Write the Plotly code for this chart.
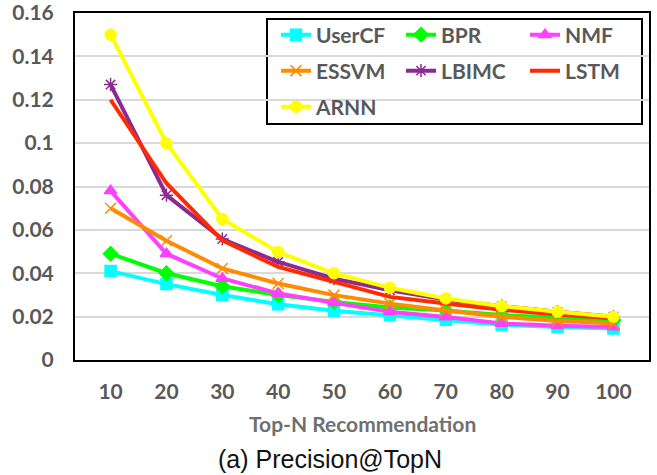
import plotly.graph_objects as go

categories = ["10", "20", "30", "40", "50", "60", "70", "80", "90", "100"]

usercf = [0.041, 0.035, 0.030, 0.0257, 0.0227, 0.0207, 0.0186, 0.0163, 0.0152, 0.0145]
bpr = [0.049, 0.040, 0.034, 0.030, 0.0268, 0.0242, 0.0228, 0.0207, 0.0196, 0.0184]
nmf = [0.078, 0.049, 0.0376, 0.0307, 0.0264, 0.0222, 0.0198, 0.0168, 0.0158, 0.0152]
essvm = [0.070, 0.055, 0.0422, 0.0353, 0.0299, 0.026, 0.0228, 0.0199, 0.018, 0.017]
lbimc = [0.127, 0.076, 0.0558, 0.0452, 0.0375, 0.0322, 0.0279, 0.0248, 0.0222, 0.0200]
lstm = [0.120, 0.0815, 0.0552, 0.0429, 0.036, 0.0291, 0.0261, 0.0232, 0.021, 0.0192]
arnn = [0.150, 0.100, 0.065, 0.0498, 0.040, 0.0333, 0.0284, 0.0248, 0.0222, 0.0199]

series_names = ["UserCF", "BPR", "NMF", "ESSVM", "LBIMC", "LSTM", "ARNN"]
series_values = [usercf, bpr, nmf, essvm, lbimc, lstm, arnn]
series_colors = ["#00FFFF", "#00FF00", "#FF40FF", "#FF8C00", "#8B2A8F", "#FF2A00", "#FFFF00"]
series_symbols = ["square", "diamond", "triangle-up", "x-thin-open", "asterisk-open", None, "circle"]

y_tickvals = [0, 0.02, 0.04, 0.06, 0.08, 0.1, 0.12, 0.14, 0.16]
y_ticktext = ["0", "0.02", "0.04", "0.06", "0.08", "0.1", "0.12", "0.14", "0.16"]

x_title = "Top-N Recommendation"
caption = "(a) Precision@TopN"

tick_font = dict(family="Lato", size=21, color="#595959", weight="bold")
legend_font = dict(family="Lato", size=21, color="#595959", weight="bold")

L, R, T, B = 75, 8, 13, 115
W, H = 657, 475
pw, ph = W - L - R, H - T - B

def px_x(x):
    return (x - L) / pw

def px_y(y):
    return (H - B - y) / ph

# legend grid: 3 columns, 3 rows (pixel anchors of each entry)
legend_cols = [276, 401, 525]
legend_rows = [35, 71, 107]

fig = go.Figure()
legend_layout = {}
for i, (name, vals, col, sym) in enumerate(zip(series_names, series_values, series_colors, series_symbols)):
    lg = "legend" if i == 0 else f"legend{i + 1}"
    if sym is None:
        fig.add_trace(go.Scatter(x=categories, y=vals, name=name, mode="lines",
                                 line=dict(color=col, width=4), legend=lg, showlegend=True))
    else:
        mk = dict(symbol=sym, size=11, color=col, line=dict(color=col, width=1.5))
        fig.add_trace(go.Scatter(x=categories, y=vals, name=name, mode="lines+markers",
                                 line=dict(color=col, width=4), marker=mk, legend=lg,
                                 showlegend=True))
    legend_layout[lg] = dict(x=px_x(legend_cols[i % 3]), y=px_y(legend_rows[i // 3]),
                             xanchor="left", yanchor="middle", font=legend_font,
                             bgcolor="rgba(0,0,0,0)", borderwidth=0)

fig.update_layout(
    width=W, height=H,
    showlegend=True,
    margin=dict(l=L, r=R, t=T, b=B, autoexpand=False),
    paper_bgcolor="white", plot_bgcolor="white",
    font=tick_font,
    xaxis=dict(type="category", showgrid=False, ticks="", tickfont=tick_font,
               showline=True, linecolor="black", linewidth=2, mirror=True,
               ticklabelstandoff=12, zeroline=False, automargin=False),
    yaxis=dict(range=[0, 0.16], tickvals=y_tickvals, ticktext=y_ticktext,
               showgrid=True, gridcolor="#D9D9D9", gridwidth=1.5, ticks="",
               tickfont=tick_font, showline=True, linecolor="black", linewidth=2,
               mirror=True, zeroline=False, ticklabelstandoff=15, automargin=False,
               ticklabeloverflow="allow"),
    shapes=[dict(type="rect", xref="paper", yref="paper",
                 x0=px_x(267), x1=px_x(642), y0=px_y(124), y1=px_y(19),
                 line=dict(color="black", width=2), fillcolor="white", layer="between")],
    annotations=[
        dict(text=x_title, xref="paper", yref="paper", x=px_x(362), y=px_y(424),
             showarrow=False, xanchor="center", yanchor="middle",
             font=dict(family="Lato", size=21, color="#707070", weight="bold")),
        dict(text=caption, xref="paper", yref="paper", x=px_x(330), y=px_y(459),
             showarrow=False, xanchor="center", yanchor="middle",
             font=dict(family="Liberation Sans", size=25, color="#111111", weight="normal")),
    ],
    **legend_layout,
)

fig.write_html("out.html", config={"displayModeBar": False},
               post_script="document.body.style.margin='0';")
